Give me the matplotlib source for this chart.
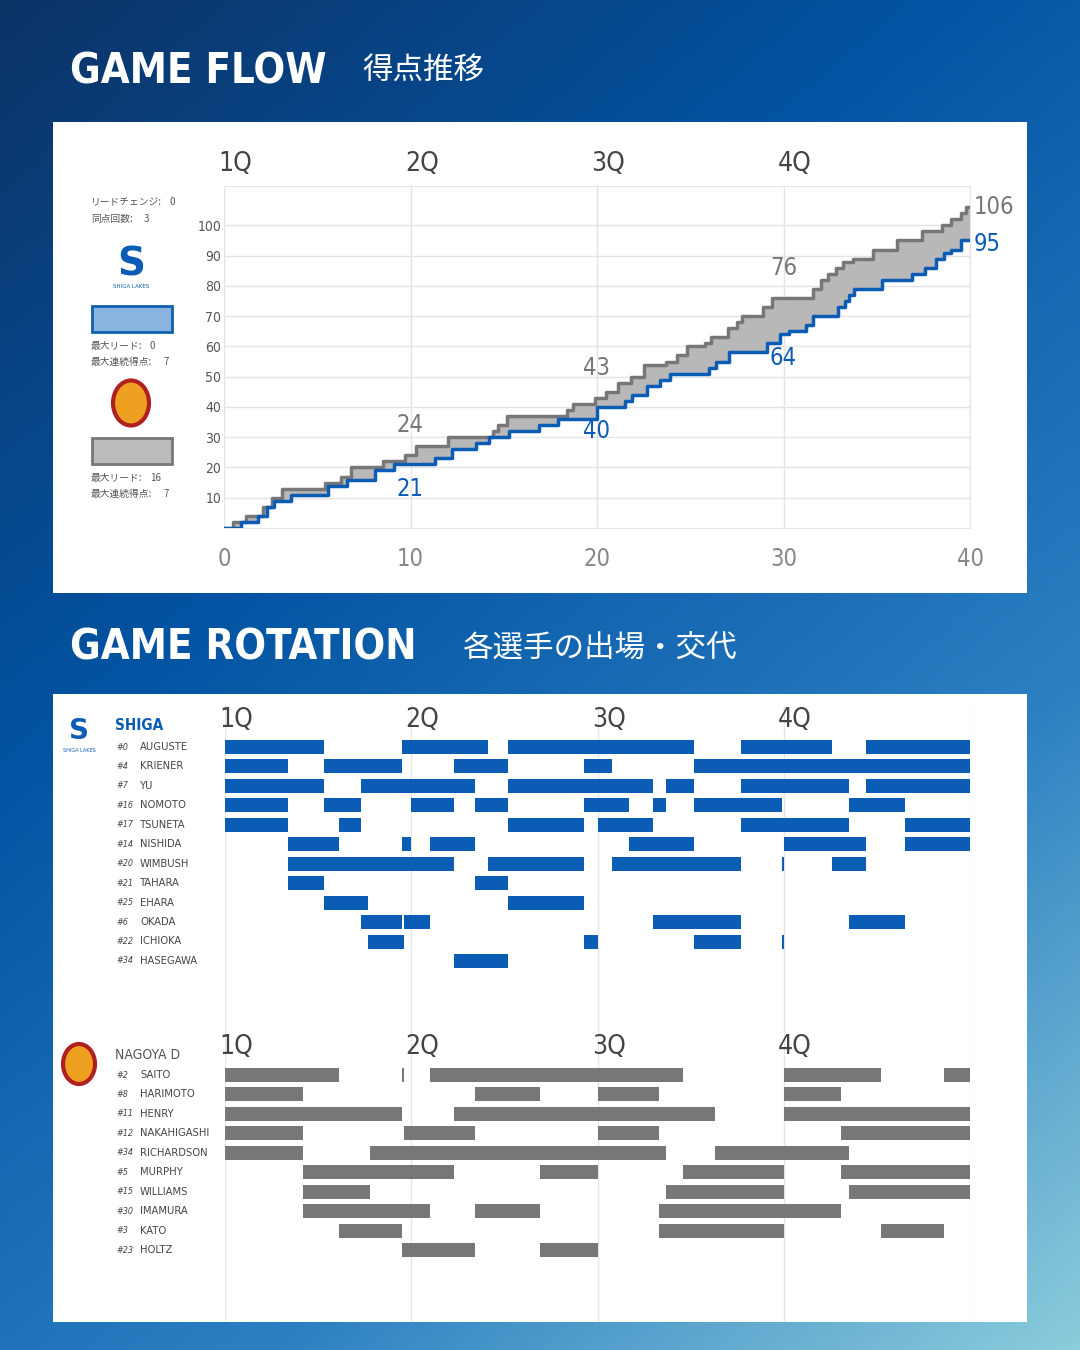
import numpy as np
import matplotlib
matplotlib.use("Agg")
import matplotlib.pyplot as plt
from matplotlib.patches import Rectangle, Circle

# ---------------- DATA ----------------
nagoya_t = [0, 0.5, 1.2, 2.1, 2.6, 3.1, 5.4, 6.3, 6.8, 8.5, 9.7, 10.3, 12.0, 14.4, 14.7, 15.2, 18.4, 18.7, 19.9,
            20.5, 21.1, 21.8, 22.5, 23.7, 24.3, 24.8, 25.8, 26.1, 27.0, 27.5, 27.8, 28.9, 29.4, 31.6, 32.0, 32.4,
            32.8, 33.2, 33.7, 34.8, 36.1, 37.4, 38.5, 39.0, 39.5, 39.8]
nagoya_s = [0, 2, 4, 7, 10, 13, 15, 17, 20, 22, 24, 27, 30, 32, 34, 37, 39, 41, 43,
            45, 48, 50, 54, 55, 57, 60, 61, 63, 66, 68, 70, 73, 76, 79, 82, 84,
            86, 88, 89, 92, 95, 98, 100, 102, 104, 106]
shiga_t = [0, 0.9, 1.8, 2.3, 2.7, 3.6, 5.6, 6.6, 8.1, 9.1, 11.3, 12.2, 13.5, 14.2, 15.3, 16.9, 17.9, 20.0,
           21.5, 21.9, 22.7, 23.4, 23.9, 26.0, 26.4, 27.1, 29.1, 29.8, 30.3, 31.2, 31.6, 32.9, 33.3, 33.5, 33.8,
           35.3, 36.9, 37.6, 38.2, 38.6, 39.0, 39.5]
shiga_s = [0, 2, 4, 7, 9, 11, 14, 16, 19, 21, 23, 26, 28, 30, 32, 34, 36, 40,
           42, 44, 47, 49, 51, 53, 55, 58, 61, 64, 65, 67, 70, 73, 75, 77, 79,
           82, 84, 86, 89, 91, 92, 95]

quarters = ["1Q", "2Q", "3Q", "4Q"]
score_labels = [(10, 24, 21), (20, 43, 40), (30, 76, 64)]
final_nagoya, final_shiga = 106, 95

shiga_players = ["#0 AUGUSTE", "#4 KRIENER", "#7 YU", "#16 NOMOTO", "#17 TSUNETA", "#14 NISHIDA",
                 "#20 WIMBUSH", "#21 TAHARA", "#25 EHARA", "#6 OKADA", "#22 ICHIOKA", "#34 HASEGAWA"]
shiga_stints = [
    [(0, 5.3), (9.5, 14.1), (15.2, 25.2), (27.7, 32.6), (34.4, 40)],
    [(0, 3.4), (5.3, 9.5), (12.3, 15.2), (19.3, 20.8), (25.2, 40)],
    [(0, 5.3), (7.3, 13.4), (15.2, 23.0), (23.7, 25.2), (27.7, 33.5), (34.4, 40)],
    [(0, 3.4), (5.3, 7.3), (10.0, 12.3), (13.4, 15.2), (19.3, 21.7), (23.0, 23.7), (25.2, 29.9), (33.5, 36.5)],
    [(0, 3.4), (6.1, 7.3), (15.2, 19.3), (20.0, 23.0), (27.7, 33.5), (36.5, 40)],
    [(3.4, 6.1), (9.5, 10.0), (11.0, 13.4), (21.7, 25.2), (30.0, 34.4), (36.5, 40)],
    [(3.4, 12.3), (14.1, 19.3), (20.8, 27.7), (29.9, 30.0), (32.6, 34.4)],
    [(3.4, 5.3), (13.4, 15.2)],
    [(5.3, 7.7), (15.2, 19.3), (20.0, 20.05)],
    [(7.3, 9.5), (9.6, 11.0), (23.0, 27.7), (33.5, 36.5)],
    [(7.7, 9.6), (19.3, 20.0), (25.2, 27.7), (29.9, 30.0)],
    [(12.3, 15.2)],
]
nagoya_players = ["#2 SAITO", "#8 HARIMOTO", "#11 HENRY", "#12 NAKAHIGASHI", "#34 RICHARDSON", "#5 MURPHY",
                  "#15 WILLIAMS", "#30 IMAMURA", "#3 KATO", "#23 HOLTZ"]
nagoya_stints = [
    [(0, 6.1), (9.5, 9.6), (11.0, 24.6), (30.0, 35.2), (38.6, 40)],
    [(0, 4.2), (13.4, 16.9), (20.0, 23.3), (30.0, 33.1)],
    [(0, 9.5), (12.3, 26.3), (30.0, 40)],
    [(0, 4.2), (9.6, 13.4), (20.0, 23.3), (33.1, 40)],
    [(0, 4.2), (7.8, 23.7), (26.3, 33.5)],
    [(4.2, 12.3), (16.9, 20.0), (24.6, 30.0), (33.1, 40)],
    [(4.2, 7.8), (23.7, 30.0), (33.5, 40)],
    [(4.2, 11.0), (13.4, 16.9), (23.3, 33.1)],
    [(6.1, 9.5), (23.3, 30.0), (35.2, 38.6)],
    [(9.5, 13.4), (16.9, 20.0)],
]

# ---------------- FIGURE ----------------
W, H = 1080, 1350
fig = plt.figure(figsize=(10.8, 13.5), dpi=100)
JP = ["Noto Sans CJK JP", "DejaVu Sans"]
NR = dict(family="DejaVu Sans", stretch="condensed")

def fx(px): return px / W
def fy(py): return 1 - py / H

# background gradient
bg = fig.add_axes([0, 0, 1, 1])
yy, xx = np.mgrid[0:1:300j, 0:1:240j]
t = np.clip(0.6 * yy + 0.4 * xx, 0, 1)
stops = np.array([0.0, 0.35, 0.7, 1.0])
cols = np.array([[0.05, 0.20, 0.40], [0.01, 0.33, 0.64], [0.17, 0.50, 0.76], [0.55, 0.80, 0.86]])
img = np.stack([np.interp(t, stops, cols[:, k]) for k in range(3)], axis=-1)
bg.imshow(img, extent=[0, 1, 0, 1], aspect="auto", origin="upper")
bg.set_axis_off()

# white panels
for (x0, y0, x1, y1) in [(53, 122, 1027, 593), (53, 694, 1027, 1322)]:
    fig.patches.append(Rectangle((fx(x0), fy(y1)), (x1 - x0) / W, (y1 - y0) / H,
                                 transform=fig.transFigure, facecolor="white", edgecolor="none", zorder=1))

# titles
fig.text(fx(70), fy(72), "GAME FLOW", color="white", fontsize=30, fontweight="bold",
         va="center", ha="left", **NR)
fig.text(fx(362), fy(70), "得点推移", color="white", fontsize=22, family=JP, va="center")
fig.text(fx(70), fy(648), "GAME ROTATION", color="white", fontsize=30, fontweight="bold",
         va="center", ha="left", **NR)
fig.text(fx(462), fy(648), "各選手の出場・交代", color="white", fontsize=22, family=JP, va="center")

# ---------------- GAME FLOW ----------------
BLUE = "#0a5cb5"; GRAY = "#777777"
ax = fig.add_axes([fx(224), fy(528), (970 - 224) / W, (528 - 186) / H])
ax.set_zorder(2)
ax.set_xlim(0, 40); ax.set_ylim(0, 113)
tn = np.array(nagoya_t + [40]); sn = np.array(nagoya_s + [nagoya_s[-1]])
ts = np.array(shiga_t + [40]); ss = np.array(shiga_s + [shiga_s[-1]])
grid_t = np.union1d(tn, ts)
gn = sn[np.searchsorted(tn, grid_t, side="right") - 1]
gs = ss[np.searchsorted(ts, grid_t, side="right") - 1]
ax.fill_between(grid_t, gs, gn, step="post", color="#b8b8b8", zorder=2, lw=0)
ax.step(tn, sn, where="post", color=GRAY, lw=2.5, zorder=3)
ax.step(ts, ss, where="post", color=BLUE, lw=2.5, zorder=4)
ax.set_yticks(range(10, 101, 10))
ax.set_xticks([0, 10, 20, 30, 40])
ax.grid(True, color="#e4e4e4", lw=1)
for s in ax.spines.values():
    s.set_color("#e4e4e4")
ax.tick_params(length=0, colors="#555555")
ax.set_yticklabels([str(v) for v in range(10, 101, 10)], fontsize=10, **NR)
ax.set_xticklabels([str(v) for v in [0, 10, 20, 30, 40]], fontsize=17, color="#888888", **NR)
ax.tick_params(axis="x", pad=14)
ax.tick_params(axis="y", pad=2)
for i, q in enumerate(quarters):
    ax.text(i * 10 + 0.6, 116, q, fontsize=19, color="#444444", ha="center", va="bottom", **NR)
for (m, n, s) in score_labels:
    ax.text(m, n + 6, str(n), color=GRAY, fontsize=17, ha="center", va="bottom", **NR)
    ax.text(m, s - 4, str(s), color=BLUE, fontsize=17, ha="center", va="top", **NR)
ax.text(40.2, final_nagoya, str(final_nagoya), color=GRAY, fontsize=17, va="center", clip_on=False, **NR)
ax.text(40.2, final_shiga - 1, str(final_shiga), color=BLUE, fontsize=17, va="center", clip_on=False, **NR)

# left info
small = dict(fontsize=7, color="#555555", family=JP, zorder=3)
fig.text(fx(91), fy(202), "リードチェンジ:", va="center", **small)
fig.text(fx(169), fy(202), "0", va="center", **small)
fig.text(fx(91), fy(219), "同点回数:", va="center", **small)
fig.text(fx(144), fy(219), "3", va="center", **small)
fig.text(fx(131), fy(264), "S", fontsize=28, fontweight="bold", color=BLUE, ha="center", va="center", zorder=3)
fig.text(fx(131), fy(286), "SHIGA LAKES", fontsize=4, color=BLUE, ha="center", va="center", zorder=3)
fig.patches.append(Rectangle((fx(92), fy(332)), 80 / W, 26 / H, transform=fig.transFigure,
                             facecolor="#8ab4e0", edgecolor="#1060b0", lw=2, zorder=3))
fig.text(fx(91), fy(346), "最大リード:", va="center", **small)
fig.text(fx(150), fy(346), "0", va="center", **small)
fig.text(fx(91), fy(362), "最大連続得点:", va="center", **small)
fig.text(fx(164), fy(362), "7", va="center", **small)
fig.patches.append(Circle((fx(131), fy(403)), 18 / W, transform=fig.transFigure,
                          facecolor="#f0a020", edgecolor="#b02020", lw=3, zorder=3))
fig.patches.append(Rectangle((fx(92), fy(464)), 80 / W, 26 / H, transform=fig.transFigure,
                             facecolor="#bbbbbb", edgecolor="#777777", lw=2, zorder=3))
fig.text(fx(91), fy(478), "最大リード:", va="center", **small)
fig.text(fx(150), fy(478), "16", va="center", **small)
fig.text(fx(91), fy(494), "最大連続得点:", va="center", **small)
fig.text(fx(164), fy(494), "7", va="center", **small)

# ---------------- ROTATION ----------------
rx = fig.add_axes([fx(225), fy(1322), (970 - 225) / W, (1322 - 705) / H])
rx.set_zorder(2)
rx.set_xlim(0, 40); rx.set_ylim(1322, 705)
rx.set_axis_off()
for m in [0, 10, 20, 30, 40]:
    rx.axvline(m, color="#e6e6e6", lw=1, zorder=1)
row0_s, row0_n, step = 747, 1075, 19.45
def names(players, stints_all, y0, color):
    for i, (name, stints) in enumerate(zip(players, stints_all)):
        y = y0 + i * step
        rx.barh([y] * len(stints), [b - a for a, b in stints], left=[a for a, b in stints],
                height=14, color=color, zorder=3)
        num, nm = name.split(" ")
        fig.text(fx(116), fy(y), num, fontsize=6.5, color="#444444", va="center", style="italic", **NR)
        fig.text(fx(140), fy(y), nm, fontsize=8, color="#444444", va="center", **NR)
names(shiga_players, shiga_stints, row0_s, BLUE)
names(nagoya_players, nagoya_stints, row0_n, "#777777")
for i, q in enumerate(quarters):
    rx.text(i * 10 + 0.6, 733, q, fontsize=19, color="#444444", ha="center", va="bottom", zorder=4, **NR)
    rx.text(i * 10 + 0.6, 1060, q, fontsize=19, color="#444444", ha="center", va="bottom", zorder=4, **NR)
fig.text(fx(115), fy(726), "SHIGA", fontsize=11, fontweight="bold", color=BLUE, va="center", **NR)
fig.text(fx(115), fy(1055), "NAGOYA D", fontsize=10, color="#555555", va="center", **NR)
fig.text(fx(79), fy(731), "S", fontsize=20, fontweight="bold", color=BLUE, ha="center", va="center", zorder=3)
fig.text(fx(79), fy(750), "SHIGA LAKES", fontsize=3.5, color=BLUE, ha="center", va="center", zorder=3)
fig.patches.append(Circle((fx(79), fy(1064)), 16 / W, transform=fig.transFigure,
                          facecolor="#f0a020", edgecolor="#b02020", lw=3, zorder=3))

fig.savefig("out.png", dpi=100)
